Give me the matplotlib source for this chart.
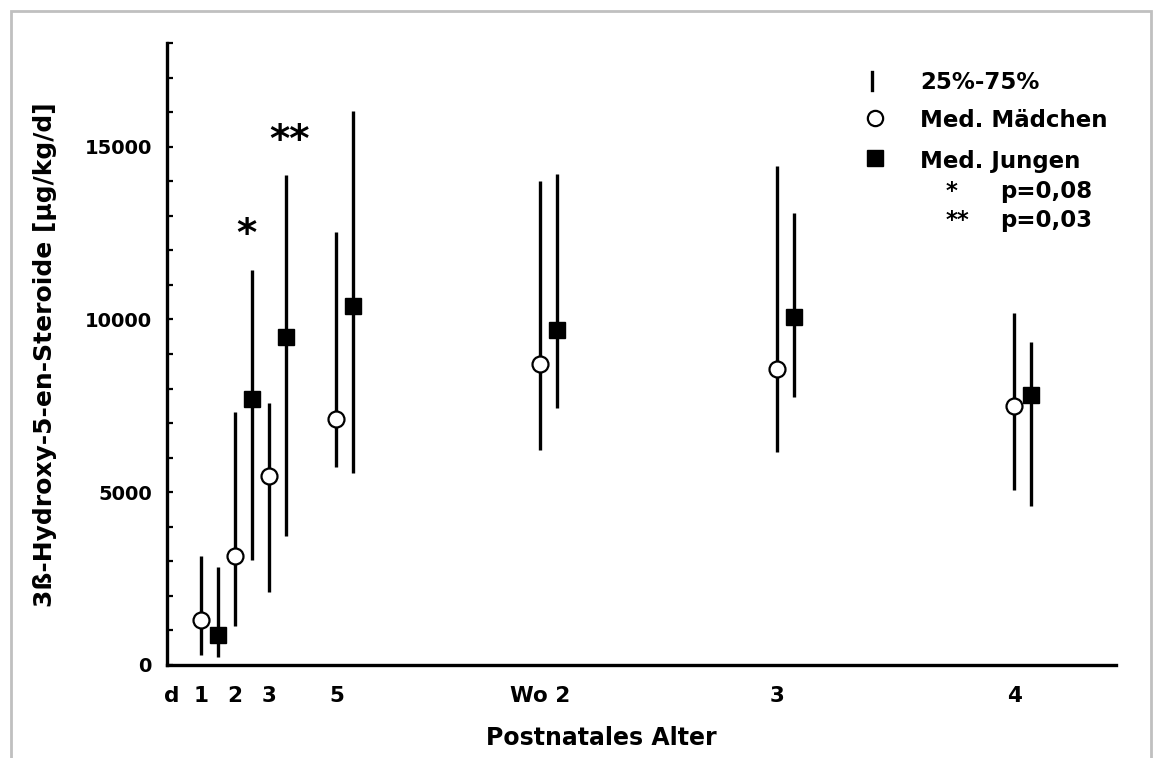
import matplotlib
matplotlib.use("Agg")
import matplotlib.pyplot as plt
from matplotlib.ticker import MultipleLocator, FixedLocator
from matplotlib.patches import Rectangle

plt.rcParams['font.family'] = ['DejaVu Sans']
plt.rcParams['font.weight'] = 'bold'

# ---- data ----
age_pos = [1, 2, 3, 5, 11, 18, 25]
tick_pos = [0.15, 1, 2, 3, 5, 11, 18, 25]
tick_labels = ['d', '1', '2', '3', '5', 'Wo 2', '3', '4']

girls_med = [1300, 3140, 5470, 7110, 8710, 8560, 7500]
girls_q1 = [290, 1130, 2100, 5720, 6220, 6150, 5070]
girls_q3 = [3140, 7310, 7590, 12540, 14010, 14450, 10200]

boys_med = [870, 7700, 9490, 10400, 9700, 10060, 7800]
boys_q1 = [240, 3040, 3740, 5570, 7450, 7770, 4600]
boys_q3 = [2850, 11430, 14180, 16040, 14200, 13090, 9360]

boys_offset = 0.5

sig_labels = ['*', '**']
sig_x = [2.35, 3.63]
sig_y = [12130, 14860]

legend_labels = ['25%-75%', 'Med. Mädchen', 'Med. Jungen']
p_stars = ['*', '**']
p_labels = ['p=0,08', 'p=0,03']

# ---- figure ----
W, H = 1155, 758
fig = plt.figure(figsize=(W / 100, H / 100), dpi=100)
ax = fig.add_axes([167 / W, 1 - 665 / H, (1116 - 167) / W, (665 - 43) / H])

lw = 2.4
fs = 16.5

boys_x = [p + boys_offset for p in age_pos]
ax.vlines(age_pos, girls_q1, girls_q3, colors='black', linewidth=lw, zorder=2)
ax.vlines(boys_x, boys_q1, boys_q3, colors='black', linewidth=lw, zorder=2)
ax.plot(age_pos, girls_med, linestyle='none', marker='o', markersize=11.5,
        markerfacecolor='white', markeredgecolor='black', markeredgewidth=1.6, zorder=3)
ax.plot(boys_x, boys_med, linestyle='none', marker='s', markersize=11.5,
        markerfacecolor='black', markeredgecolor='black', zorder=3)

for lab, x, y in zip(sig_labels, sig_x, sig_y):
    ax.text(x, y, lab, fontsize=28, fontweight='bold', ha='center', va='baseline')

ax.set_xlim(0, 28)
ax.set_ylim(0, 18000)

for s in ['top', 'right']:
    ax.spines[s].set_visible(False)
for s in ['left', 'bottom']:
    ax.spines[s].set_linewidth(lw)

ax.yaxis.set_major_locator(FixedLocator([0, 5000, 10000, 15000]))
ax.yaxis.set_minor_locator(MultipleLocator(1000))
ax.tick_params(axis='y', which='both', direction='in', length=4, width=1.6, pad=11,
               labelsize=14)
ax.set_xticks(tick_pos)
ax.set_xticklabels(tick_labels)
ax.tick_params(axis='x', which='both', length=0, pad=15, labelsize=15.5)
for t in ax.get_xticklabels() + ax.get_yticklabels():
    t.set_fontweight('bold')

fig.text(45 / W, 1 - 355 / H, '3ß-Hydroxy-5-en-Steroide [µg/kg/d]', rotation=90,
         ha='center', va='center', fontsize=18, fontweight='bold')
fig.text(601.5 / W, 1 - 738 / H, 'Postnatales Alter', ha='center', va='center',
         fontsize=17, fontweight='bold')

# ---- legend (manual) ----
tA = ax.transAxes
ax.plot([0.7432, 0.7432], [0.9244, 0.9539], color='black', linewidth=lw,
        transform=tA, clip_on=False)
ax.plot([0.746], [0.879], marker='o', markersize=11, markerfacecolor='white',
        markeredgecolor='black', markeredgewidth=1.6, transform=tA, clip_on=False)
ax.plot([0.746], [0.8151], marker='s', markersize=11.5, markerfacecolor='black',
        markeredgecolor='black', transform=tA, clip_on=False)
for lab, yb in zip(legend_labels, [0.9256, 0.8645, 0.7986]):
    ax.text(0.7935, yb, lab, transform=tA, fontsize=fs, fontweight='bold',
            ha='left', va='baseline')
for st, pl, xs, yb in zip(p_stars, p_labels, [0.8269, 0.8325], [0.7508, 0.7047]):
    ax.text(xs, yb, st, transform=tA, fontsize=fs, fontweight='bold',
            ha='center', va='baseline')
    ax.text(0.8778, yb, pl, transform=tA, fontsize=fs, fontweight='bold',
            ha='left', va='baseline')

# gray frame
fig.patches.append(Rectangle((11.3 / W, -0.02), (1151 - 11.3) / W, 1.02 - 10.7 / H,
                             transform=fig.transFigure, fill=False,
                             edgecolor='#c0c0c0', linewidth=2))

fig.savefig('out.png', dpi=100)
